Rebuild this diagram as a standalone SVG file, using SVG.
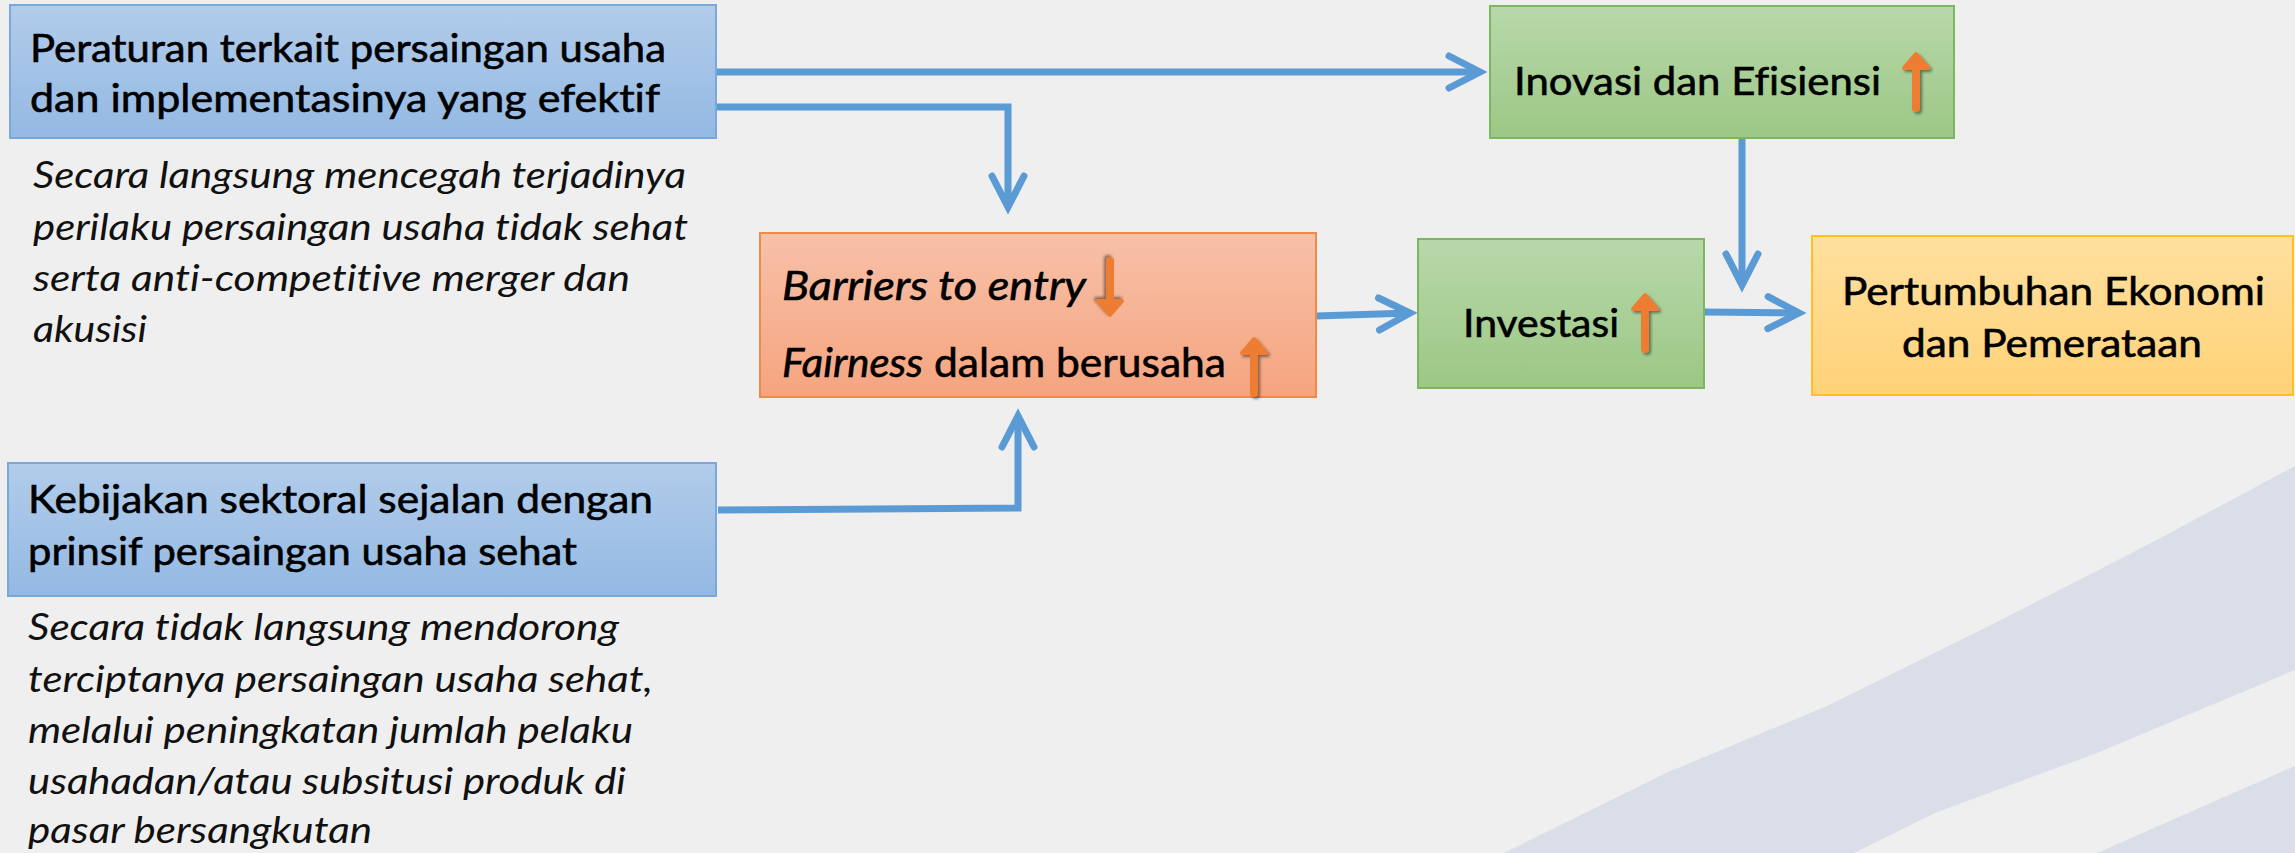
<svg xmlns="http://www.w3.org/2000/svg" width="2295" height="853" viewBox="0 0 2295 853">
<style>
.t{font-family:Lato,"Open Sans","Liberation Sans",sans-serif;fill:#000;stroke:#000;stroke-width:0.6;font-variant-ligatures:none;}
.b{font-size:39px;}
.i{font-size:37px;font-style:italic;stroke-width:0;fill:#111;}
.bi{font-size:40px;}
.conn{fill:none;stroke:#5B9BD5;stroke-width:7;stroke-linejoin:miter;marker-end:url(#chev);}
.oa{fill:#ED7D31;stroke:#ED7D31;}
</style>
<defs>
<linearGradient id="gBlue" x1="0" y1="0" x2="0" y2="1"><stop offset="0" stop-color="#B2CCEA"/><stop offset="1" stop-color="#94B9E3"/></linearGradient>
<linearGradient id="gOrange" x1="0" y1="0" x2="0" y2="1"><stop offset="0" stop-color="#F8C1A9"/><stop offset="1" stop-color="#F5A47F"/></linearGradient>
<linearGradient id="gGreen" x1="0" y1="0" x2="0" y2="1"><stop offset="0" stop-color="#B8D8AA"/><stop offset="1" stop-color="#9CC785"/></linearGradient>
<linearGradient id="gYellow" x1="0" y1="0" x2="0" y2="1"><stop offset="0" stop-color="#FFE09F"/><stop offset="1" stop-color="#FFD278"/></linearGradient>
<marker id="chev" markerUnits="userSpaceOnUse" viewBox="-45 -25 55 50" markerWidth="55" markerHeight="50" refX="0" refY="0" orient="auto">
<path d="M-31,-16 L0,0 L-31,16" fill="none" stroke="#5B9BD5" stroke-width="7" stroke-linecap="round" stroke-linejoin="miter" stroke-miterlimit="10"/>
</marker>
<filter id="sh" x="-50%" y="-20%" width="200%" height="150%">
<feDropShadow dx="2" dy="2" stdDeviation="1.5" flood-color="#000" flood-opacity="0.45"/>
</filter>
<g id="upArrow" filter="url(#sh)">
<path class="oa" d="M0,2 L12,16 L-12,16 Z" stroke-width="4" stroke-linejoin="round"/>
<line x1="0" y1="14" x2="0" y2="56" stroke="#ED7D31" stroke-width="8" stroke-linecap="round"/>
</g>
</defs>

<g id="background">
<rect x="0" y="0" width="2295" height="853" fill="#EFEFEF"/>
<path d="M2295,466 L2151,543 L1989,626 L1827,706 L1666,773 L1504,853 L1854,853 L1935,813 L2097,753 L2295,670 Z" fill="#D9DEE8"/>
<path d="M2295,766 L2097,853 L2295,853 Z" fill="#D9DEE8"/>
</g>

<g id="connectors">
<path class="conn" d="M716,72 H1480"/>
<path class="conn" d="M716,107 H1008 V207"/>
<path class="conn" d="M718,510 L1018,508 V416"/>
<path class="conn" d="M1316,316 L1410,313"/>
<path class="conn" d="M1742,138 V285"/>
<path class="conn" d="M1705,312 L1799,313"/>
</g>

<g id="node-peraturan">
<rect x="10" y="5" width="706" height="133" fill="url(#gBlue)" stroke="#7BA8DC" stroke-width="2"/>
<text class="t b" x="30" y="62" textLength="636" lengthAdjust="spacingAndGlyphs">Peraturan terkait persaingan usaha</text>
<text class="t b" x="30" y="112" textLength="630" lengthAdjust="spacingAndGlyphs">dan implementasinya yang efektif</text>
</g>

<g id="note-langsung">
<text class="t i" x="33" y="188" textLength="653" lengthAdjust="spacingAndGlyphs">Secara langsung mencegah terjadinya</text>
<text class="t i" x="33" y="240" textLength="655" lengthAdjust="spacingAndGlyphs">perilaku persaingan usaha tidak sehat</text>
<text class="t i" x="33" y="291" textLength="597" lengthAdjust="spacingAndGlyphs">serta anti-competitive merger dan</text>
<text class="t i" x="33" y="342" textLength="114" lengthAdjust="spacingAndGlyphs">akusisi</text>
</g>

<g id="node-kebijakan">
<rect x="8" y="463" width="708" height="133" fill="url(#gBlue)" stroke="#7BA8DC" stroke-width="2"/>
<text class="t b" x="28" y="513" textLength="625" lengthAdjust="spacingAndGlyphs">Kebijakan sektoral sejalan dengan</text>
<text class="t b" x="28" y="565" textLength="549" lengthAdjust="spacingAndGlyphs">prinsif persaingan usaha sehat</text>
</g>

<g id="note-tidak-langsung">
<text class="t i" x="28" y="640" textLength="591" lengthAdjust="spacingAndGlyphs">Secara tidak langsung mendorong</text>
<text class="t i" x="28" y="692" textLength="625" lengthAdjust="spacingAndGlyphs">terciptanya persaingan usaha sehat,</text>
<text class="t i" x="28" y="743" textLength="605" lengthAdjust="spacingAndGlyphs">melalui peningkatan jumlah pelaku</text>
<text class="t i" x="28" y="794" textLength="598" lengthAdjust="spacingAndGlyphs">usahadan/atau subsitusi produk di</text>
<text class="t i" x="28" y="843" textLength="344" lengthAdjust="spacingAndGlyphs">pasar bersangkutan</text>
</g>

<g id="node-barriers">
<rect x="760" y="233" width="556" height="164" fill="url(#gOrange)" stroke="#F08A48" stroke-width="2"/>
<text class="t bi" x="782" y="300" font-style="italic" textLength="304" lengthAdjust="spacingAndGlyphs">Barriers to entry</text>
<use href="#upArrow" transform="translate(1110,317) rotate(180)"/>
<text class="t bi" x="782" y="377" font-style="italic" textLength="141" lengthAdjust="spacingAndGlyphs">Fairness</text>
<text class="t bi" x="934" y="377" textLength="292" lengthAdjust="spacingAndGlyphs">dalam berusaha</text>
<use href="#upArrow" transform="translate(1254,337)"/>
</g>

<g id="node-inovasi">
<rect x="1490" y="6" width="464" height="132" fill="url(#gGreen)" stroke="#7DB65F" stroke-width="2"/>
<text class="t b" x="1514" y="95" textLength="367" lengthAdjust="spacingAndGlyphs">Inovasi dan Efisiensi</text>
<use href="#upArrow" transform="translate(1916,52)"/>
</g>

<g id="node-investasi">
<rect x="1418" y="239" width="286" height="149" fill="url(#gGreen)" stroke="#7DB65F" stroke-width="2"/>
<text class="t b" x="1463" y="337" textLength="156" lengthAdjust="spacingAndGlyphs">Investasi</text>
<use href="#upArrow" transform="translate(1645,293)"/>
</g>

<g id="node-pertumbuhan">
<rect x="1812" y="236" width="481" height="159" fill="url(#gYellow)" stroke="#FFC121" stroke-width="2"/>
<text class="t b" x="1842" y="305" textLength="423" lengthAdjust="spacingAndGlyphs">Pertumbuhan Ekonomi</text>
<text class="t b" x="1902" y="357" textLength="300" lengthAdjust="spacingAndGlyphs">dan Pemerataan</text>
</g>
</svg>
